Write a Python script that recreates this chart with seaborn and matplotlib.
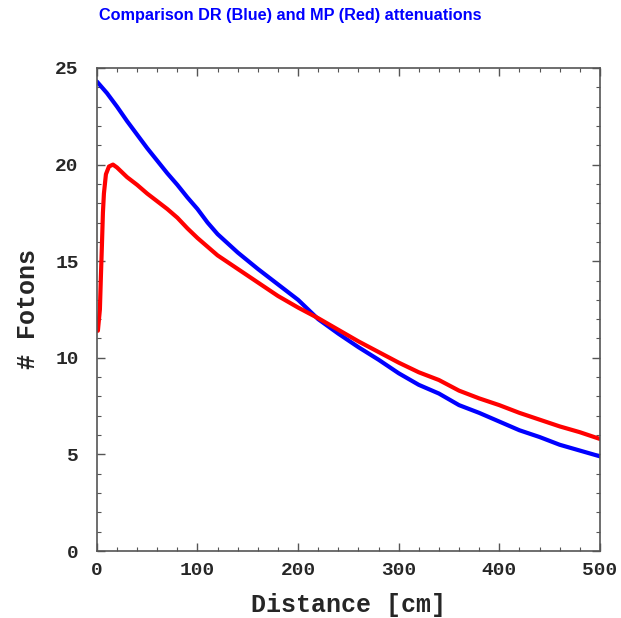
import pandas as pd
import matplotlib
matplotlib.use("Agg")
import matplotlib.pyplot as plt
from matplotlib.ticker import MultipleLocator
import seaborn as sns

# distance in cm, photon counts
dist_dr = [0, 10, 20, 30, 40, 50, 60, 70, 80, 90, 100, 110, 120, 140, 160, 180, 200,
           220, 240, 260, 280, 300, 320, 340, 360, 380, 400, 420, 440, 460, 480, 500]
fotons_dr = [24.3, 23.7, 23.0, 22.25, 21.55, 20.85, 20.2, 19.55, 18.95, 18.3, 17.7,
             17.0, 16.4, 15.45, 14.6, 13.8, 13.0, 12.0, 11.25, 10.55, 9.9, 9.2, 8.6,
             8.15, 7.55, 7.15, 6.7, 6.25, 5.9, 5.5, 5.2, 4.9]

dist_mp = [1, 3, 4, 5, 6, 7, 9, 12, 16, 20, 25, 30, 40, 50, 60, 70, 80, 90, 100, 110,
           120, 140, 160, 180, 200, 220, 240, 260, 280, 300, 320, 340, 360, 380, 400,
           420, 440, 460, 480, 500]
fotons_mp = [11.4, 12.5, 14.2, 15.8, 17.5, 18.5, 19.5, 19.9, 20.0, 19.85, 19.6,
             19.35, 18.95, 18.5, 18.1, 17.7, 17.25, 16.7, 16.2, 15.75, 15.3, 14.6,
             13.9, 13.2, 12.6, 12.05, 11.45, 10.85, 10.3, 9.75, 9.25, 8.85, 8.3, 7.9,
             7.55, 7.15, 6.8, 6.45, 6.15, 5.8]

df = pd.concat([
    pd.DataFrame({"dist": dist_dr, "fotons": fotons_dr, "method": "DR"}),
    pd.DataFrame({"dist": dist_mp, "fotons": fotons_mp, "method": "MP"}),
])

sns.set_style("ticks")
plt.rcParams["font.family"] = ["Liberation Mono", "DejaVu Sans Mono"]
plt.rcParams["font.weight"] = "bold"

fig = plt.figure(figsize=(6.21, 6.18), dpi=100)
ax = fig.add_axes([0.156, 0.1084, 0.81, 0.7816])

sns.lineplot(data=df, x="dist", y="fotons", hue="method", palette={"DR": "#0000ff", "MP": "#ff0000"},
             linewidth=3, legend=False, ax=ax, sort=False)

ax.set_xlim(0, 500)
ax.set_ylim(0, 25)
ax.xaxis.set_major_locator(MultipleLocator(100))
ax.xaxis.set_minor_locator(MultipleLocator(20))
ax.yaxis.set_major_locator(MultipleLocator(5))
ax.yaxis.set_minor_locator(MultipleLocator(1))
ax.tick_params(which="both", direction="in", top=True, right=True, color="#555555")
ax.tick_params(which="major", length=6, width=1, labelsize=14)
ax.tick_params(which="minor", length=3, width=0.8)
ax.tick_params(axis="x", which="major", pad=8)
ax.tick_params(axis="y", which="major", pad=13)
for lab in ax.get_xticklabels() + ax.get_yticklabels():
    lab.set_fontweight("bold")
for sp in ax.spines.values():
    sp.set_color("#555555")
    sp.set_linewidth(1.2)

ax.set_xlabel("Distance [cm]", fontsize=18, fontweight="bold", labelpad=10)
ax.set_ylabel("# Fotons", fontsize=18, fontweight="bold", labelpad=11)

fig.text(0.467, 0.975, "Comparison DR (Blue) and MP (Red) attenuations", ha="center", va="center",
         color="#0000ff", fontsize=11.7, fontweight="bold", family=["Liberation Sans", "DejaVu Sans"])

fig.savefig("out.png", dpi=100)
